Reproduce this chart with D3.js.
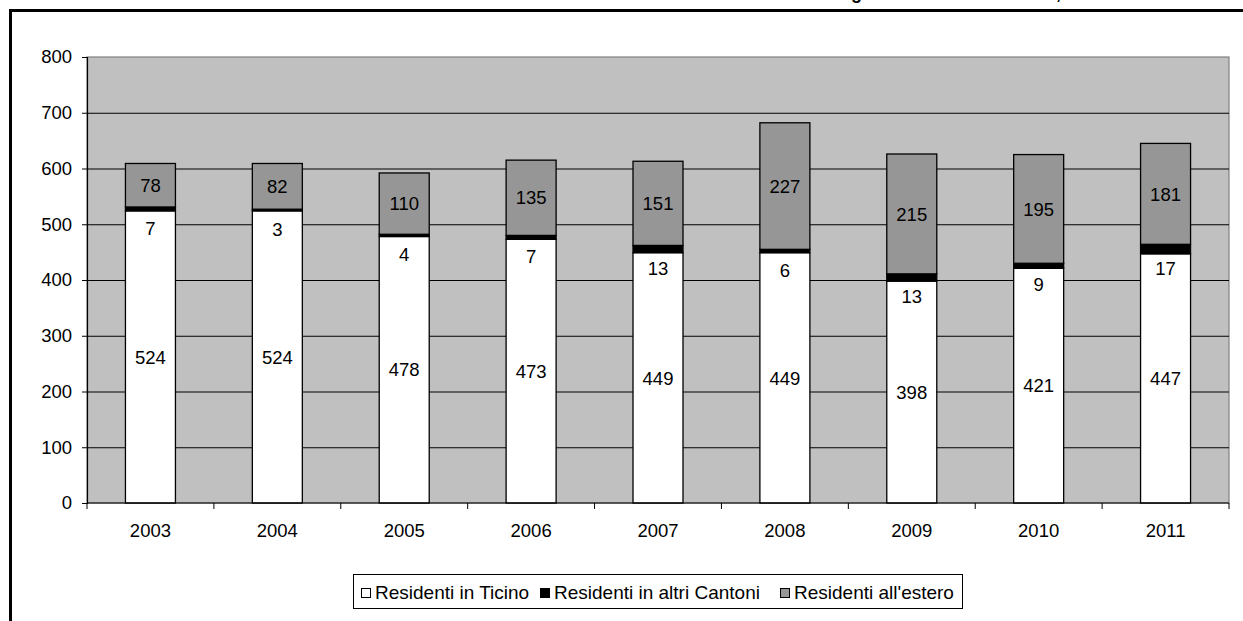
<!DOCTYPE html>
<html>
<head>
<meta charset="utf-8">
<script src="https://cdn.jsdelivr.net/npm/d3@7"></script>
<style>
  body { margin: 0; background: #fff; }
  svg text { font-family: Arial, "Liberation Sans", sans-serif; }
</style>
</head>
<body>
<svg id="chart" width="1243" height="621"></svg>
<script>
const years = ["2003","2004","2005","2006","2007","2008","2009","2010","2011"];
const ticino = [524,524,478,473,449,449,398,421,447];
const altriCantoni = [7,3,4,7,13,6,13,9,17];
const estero = [78,82,110,135,151,227,215,195,181];
const seriesNames = ["Residenti in Ticino","Residenti in altri Cantoni","Residenti all'estero"];
const yTicks = [0,100,200,300,400,500,600,700,800];

const svg = d3.select("#chart");
const plot = {left: 87, right: 1229, top: 57, bottom: 503};
const colors = ["#ffffff","#000000","#969696"];
const fontSize = "18.5px";

// outer frame (cut at right/bottom)
svg.append("rect")
   .attr("x",10.5).attr("y",10.5)
   .attr("width",1300).attr("height",700)
   .attr("fill","none").attr("stroke","#000").attr("stroke-width",3);

// title, only its descenders show at the top edge
const title = svg.append("text")
   .attr("y",-1)
   .attr("font-size","18px")
   .attr("font-weight","bold")
   .text("Allievi del Collegio secondo il domicilio, 2003-2011");
const gIdx = title.text().indexOf("g");
const gOff = title.node().getSubStringLength(0, gIdx);
title.attr("x", 851 - gOff);

const x = d3.scaleBand().domain(years).range([plot.left, plot.right])
            .paddingInner(0.606).paddingOuter(0.303);
const y = d3.scaleLinear().domain([0,800]).range([plot.bottom, plot.top]);

// plot background
svg.append("rect")
   .attr("x",plot.left).attr("y",plot.top)
   .attr("width",plot.right-plot.left).attr("height",plot.bottom-plot.top)
   .attr("fill","#c0c0c0").attr("stroke","#808080").attr("stroke-width",1.2);

// gridlines
svg.append("g")
   .attr("transform",`translate(${plot.left},0)`)
   .call(d3.axisLeft(y).tickValues(yTicks.filter(d=>d>0 && d<800)).tickSize(-(plot.right-plot.left)).tickFormat(""))
   .call(g=>g.select(".domain").remove())
   .call(g=>g.selectAll("line").attr("stroke","#000").attr("stroke-width",1));

// stacked bars
const stackData = years.map((yr,i)=>({year:yr, s0:ticino[i], s1:altriCantoni[i], s2:estero[i]}));
const stack = d3.stack().keys(["s0","s1","s2"])(stackData);
const bars = svg.append("g");
stack.forEach((layer,k)=>{
    bars.selectAll(null).data(layer).enter().append("rect")
        .attr("x", d=>x(d.data.year))
        .attr("y", d=>y(d[1]))
        .attr("width", x.bandwidth())
        .attr("height", d=>y(d[0])-y(d[1]))
        .attr("fill", colors[k])
        .attr("stroke","#000").attr("stroke-width",1.3);
});

// value labels
const labels = svg.append("g").attr("font-size",fontSize).attr("fill","#000").attr("text-anchor","middle");
stack.forEach((layer,k)=>{
    layer.forEach(d=>{
        const cx = x(d.data.year) + x.bandwidth()/2;
        let cy = (y(d[0])+y(d[1]))/2;
        if (k===1) {
            // small segment: label sits just under the black band
            cy = cy + 19;
            labels.append("rect")
                  .attr("x",cx-13).attr("y",cy-10)
                  .attr("width",26).attr("height",20)
                  .attr("fill","#fff");
        }
        labels.append("text")
              .attr("x",cx).attr("y",cy)
              .attr("dy","0.36em")
              .text(d[1]-d[0]);
    });
});

// y axis
const yAxis = svg.append("g")
   .attr("transform",`translate(${plot.left},0)`)
   .call(d3.axisLeft(y).tickValues(yTicks).tickSize(5).tickPadding(10).tickFormat(d3.format("d")));
yAxis.select(".domain").attr("stroke","#000").attr("stroke-width",1.2);
yAxis.selectAll("line").attr("stroke","#000");
yAxis.selectAll("text").attr("font-size",fontSize).attr("fill","#000")
     .style("font-family","Arial, 'Liberation Sans', sans-serif");

// x axis
const step = x.step();
const xTickPos = d3.range(years.length+1).map(i=>plot.left + i*step);
const xAxis = svg.append("g");
xAxis.append("line")
     .attr("x1",plot.left).attr("x2",plot.right)
     .attr("y1",plot.bottom).attr("y2",plot.bottom)
     .attr("stroke","#000").attr("stroke-width",1.2);
xAxis.selectAll(".tick").data(xTickPos).enter().append("line")
     .attr("x1",d=>d).attr("x2",d=>d)
     .attr("y1",plot.bottom).attr("y2",plot.bottom+6)
     .attr("stroke","#000");
xAxis.selectAll("text").data(years).enter().append("text")
     .attr("x",d=>x(d)+x.bandwidth()/2)
     .attr("y",plot.bottom+34)
     .attr("text-anchor","middle")
     .attr("font-size",fontSize)
     .text(d=>d);

// legend
const legend = svg.append("g");
legend.append("rect")
      .attr("x",353.5).attr("y",574.5).attr("width",609).attr("height",34)
      .attr("fill","#fff").attr("stroke","#000").attr("stroke-width",1);
const legendX = [361, 540, 780];
seriesNames.forEach((name,i)=>{
    legend.append("rect")
          .attr("x",legendX[i]+0.5).attr("y",588.5).attr("width",9).attr("height",9)
          .attr("fill",colors[i]).attr("stroke","#000").attr("stroke-width",1);
    legend.append("text")
          .attr("x",legendX[i]+14).attr("y",599)
          .attr("font-size","19px")
          .text(name);
});
</script>
</body>
</html>
